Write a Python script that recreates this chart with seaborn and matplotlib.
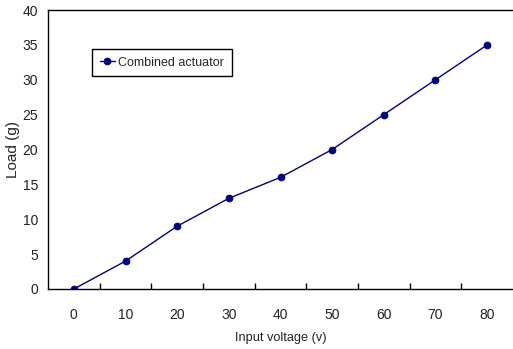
import numpy as np
import pandas as pd
import matplotlib
matplotlib.use("Agg")
import matplotlib.pyplot as plt
import seaborn as sns

voltage = [0, 10, 20, 30, 40, 50, 60, 70, 80]
load = [0, 4, 9, 13, 16, 20, 25, 30, 35]
series_name = "Combined actuator"

sns.set_style("white")
plt.rcParams['font.family'] = ['Liberation Sans', 'DejaVu Sans']
plt.rcParams['font.size'] = 10

df = pd.DataFrame({"pos": np.arange(len(voltage)), "load": load, "series": series_name})

fig = plt.figure(figsize=(5.13, 3.49), dpi=100)
ax = fig.add_axes([48/513, 1-289/349, 1-48/513, (289-10)/349])

sns.lineplot(data=df, x="pos", y="load", ax=ax, color="#000080", marker="o",
             markersize=4.8, markeredgecolor="#000080", linewidth=1, label=series_name)

ax.set_xlim(-0.5, len(voltage)-0.5)
ax.set_ylim(0, 40)
ax.set_yticks(np.arange(0, 41, 5))
ax.set_xticks(np.arange(len(voltage)-1) + 0.5)
ax.set_xticklabels([])
ax.set_xticks(np.arange(len(voltage)), minor=True)
ax.set_xticklabels([str(v) for v in voltage], minor=True)
ax.tick_params(axis='x', which='major', direction='in', length=4, width=1, color='black', bottom=True)
ax.tick_params(axis='x', which='minor', length=0, pad=14, labelsize=10, labelcolor='#222222')
ax.tick_params(axis='y', length=0, pad=7, labelsize=10, labelcolor='#222222')

for s in ['top', 'left', 'bottom']:
    ax.spines[s].set_visible(True)
    ax.spines[s].set_color('black')
    ax.spines[s].set_linewidth(1)
ax.spines['right'].set_visible(False)

ax.set_xlabel("Input voltage (v)", fontsize=9.2, color='#222222', labelpad=7)
ax.set_ylabel("Load (g)", fontsize=11, color='#222222', labelpad=2)

leg = ax.legend(loc='upper left', bbox_to_anchor=((92-48)/465, 1-(49-10)/279),
                frameon=True, fancybox=False, shadow=False, framealpha=1,
                borderpad=0.6, borderaxespad=0, handlelength=1.2, handletextpad=0.3,
                fontsize=9)
leg.get_frame().set_edgecolor('black')
leg.get_frame().set_linewidth(1)

fig.savefig("out.png", dpi=100)
